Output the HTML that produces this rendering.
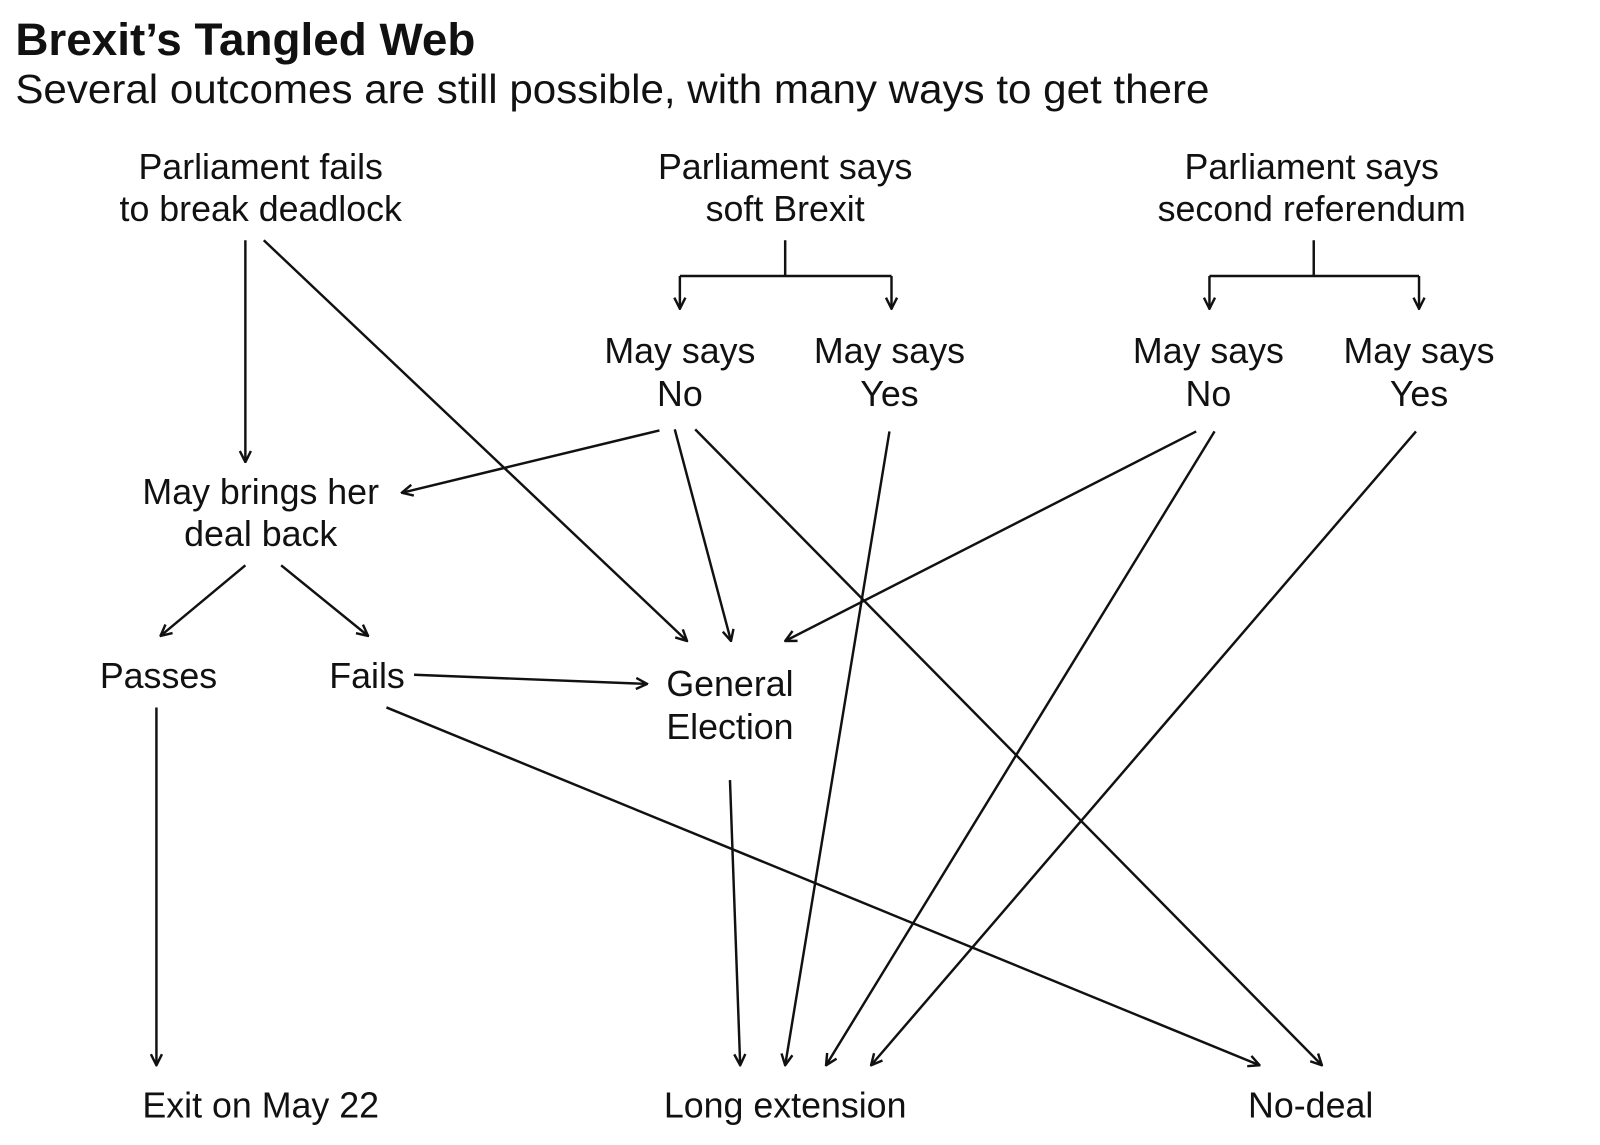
<!DOCTYPE html>
<html><head><meta charset="utf-8"><style>
html,body{margin:0;padding:0;background:#fff;}
svg{display:block;}
text{font-family:"Liberation Sans",sans-serif;fill:#111;}
</style></head><body>
<svg width="1600" height="1145" viewBox="0 0 1565 1120" preserveAspectRatio="none" xmlns="http://www.w3.org/2000/svg">
<defs>
<marker id="a" viewBox="0 0 12 12" refX="11" refY="6" markerWidth="13" markerHeight="13" markerUnits="userSpaceOnUse" orient="auto">
<path d="M1,1 L11,6 L1,11" fill="none" stroke="#111" stroke-width="2.2"/>
</marker>
</defs>
<text x="15" y="54" font-size="44" font-weight="bold" textLength="450" lengthAdjust="spacingAndGlyphs">Brexit’s Tangled Web</text>
<text x="15" y="101" font-size="40" textLength="1168" lengthAdjust="spacingAndGlyphs">Several outcomes are still possible, with many ways to get there</text>
<g font-size="35" text-anchor="middle">
<text x="255" y="175">Parliament fails</text><text x="255" y="216">to break deadlock</text>
<text x="768" y="175">Parliament says</text><text x="768" y="216">soft Brexit</text>
<text x="1283" y="175">Parliament says</text><text x="1283" y="216">second referendum</text>
<text x="665" y="355">May says</text><text x="665" y="397">No</text>
<text x="870" y="355">May says</text><text x="870" y="397">Yes</text>
<text x="1182" y="355">May says</text><text x="1182" y="397">No</text>
<text x="1388" y="355">May says</text><text x="1388" y="397">Yes</text>
<text x="255" y="493">May brings her</text><text x="255" y="534">deal back</text>
<text x="155" y="673">Passes</text><text x="359" y="673">Fails</text>
<text x="714" y="681">General</text><text x="714" y="723">Election</text>
<text x="255" y="1093">Exit on May 22</text>
<text x="768" y="1093">Long extension</text>
<text x="1282" y="1093">No-deal</text>
</g>
<g stroke="#111" stroke-width="2.4" fill="none">
<path d="M768,235V270M665,270H872M1285,235V270M1183,270H1388"/>
<line x1="665" y1="270" x2="665" y2="302" marker-end="url(#a)"/>
<line x1="872" y1="270" x2="872" y2="302" marker-end="url(#a)"/>
<line x1="1183" y1="270" x2="1183" y2="302" marker-end="url(#a)"/>
<line x1="1388" y1="270" x2="1388" y2="302" marker-end="url(#a)"/>
<line x1="240" y1="235" x2="240" y2="452" marker-end="url(#a)"/>
<line x1="258" y1="235" x2="672" y2="627" marker-end="url(#a)"/>
<line x1="645" y1="421" x2="393" y2="482" marker-end="url(#a)"/>
<line x1="660" y1="420" x2="715" y2="627" marker-end="url(#a)"/>
<line x1="680" y1="420" x2="1293" y2="1042" marker-end="url(#a)"/>
<line x1="870" y1="422" x2="768" y2="1042" marker-end="url(#a)"/>
<line x1="1170" y1="422" x2="768" y2="627" marker-end="url(#a)"/>
<line x1="1188" y1="422" x2="808" y2="1042" marker-end="url(#a)"/>
<line x1="1385" y1="422" x2="852" y2="1042" marker-end="url(#a)"/>
<line x1="240" y1="553" x2="157" y2="622" marker-end="url(#a)"/>
<line x1="275" y1="553" x2="360" y2="622" marker-end="url(#a)"/>
<line x1="405" y1="660" x2="633" y2="669" marker-end="url(#a)"/>
<line x1="378" y1="692" x2="1232" y2="1042" marker-end="url(#a)"/>
<line x1="714" y1="763" x2="724" y2="1042" marker-end="url(#a)"/>
<line x1="153" y1="692" x2="153" y2="1042" marker-end="url(#a)"/>
</g>
</svg>
</body></html>
